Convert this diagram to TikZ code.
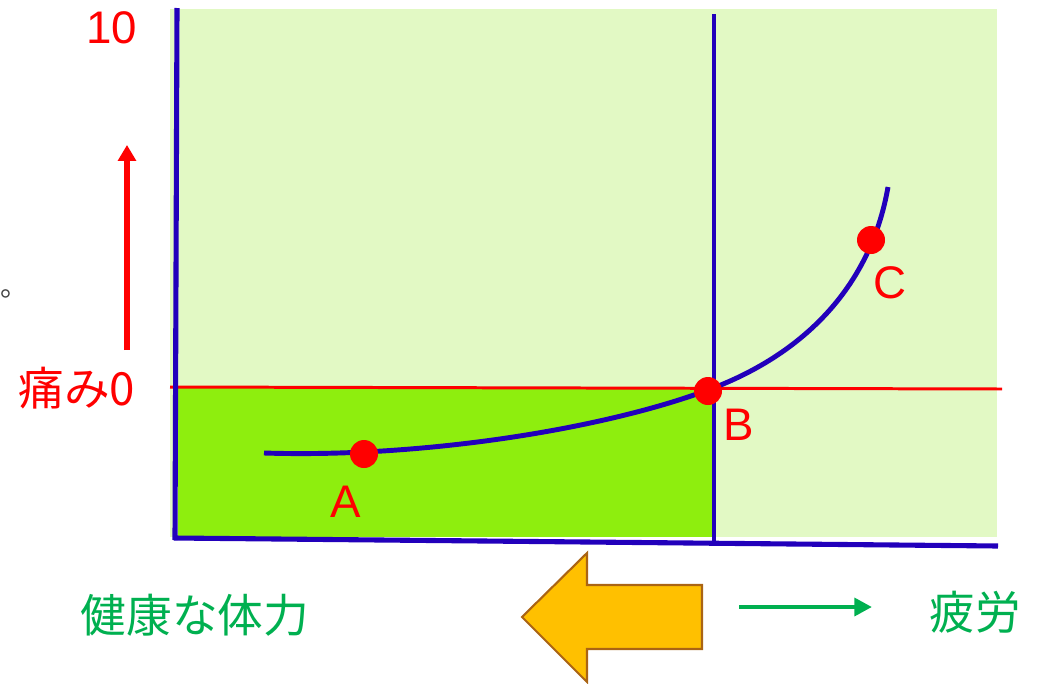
\documentclass[tikz,border=0pt]{standalone}
\usepackage{fontspec}
\usetikzlibrary{arrows.meta}
\setmainfont{Liberation Sans}
\newfontfamily\jpfont{Noto Sans CJK JP}
\definecolor{axisblue}{RGB}{34,0,187}
\definecolor{bglight}{RGB}{226,249,196}
\definecolor{bgbright}{RGB}{142,238,14}
\definecolor{arrorange}{RGB}{255,192,0}
\definecolor{arrbrown}{RGB}{170,100,20}
\definecolor{txtgreen}{RGB}{0,176,80}
\tikzset{
  dot/.style={circle,fill=red,inner sep=0pt,minimum size=0.56cm},
  lbl/.style={text=red,font=\fontsize{26}{28}\selectfont,inner sep=0pt},
  jplbl/.style={font=\jpfont\fontsize{26}{28}\selectfont,inner sep=0pt},
  axisline/.style={axisblue,line width=2.9pt},
}
\begin{document}
\begin{tikzpicture}[x=0.02cm,y=-0.02cm]
\useasboundingbox (0,0) rectangle (1038,683);
% backgrounds
\fill[bglight] (170,9) rectangle (997,537);
\fill[bgbright] (178,387) rectangle (714,537);
% vertical divider
\draw[axisblue,line width=2pt] (714,14) -- (714,543);
% red zero line
\draw[red,line width=1.7pt] (170,387) -- (1002,389);
% axes
\draw[axisline] (177,8) -- (175,540);
\draw[axisline] (174,538) -- (998,546);
% curve
\draw[axisblue,line width=2.8pt] (264,453) .. controls (420,458) and (600,430) .. (708,390)
   .. controls (800,356) and (870,290) .. (888,187);
% dots
\node[dot] (A) at (364,454) {};
\node[dot] (B) at (708,391) {};
\node[dot] (C) at (871,240) {};
% point labels
\node[lbl,anchor=base] (lA) at (346,517) {A};
\node[lbl,anchor=base] (lB) at (739,440) {B};
\node[lbl,anchor=base] (lC) at (890,298) {C};
% axis labels
\node[lbl,anchor=base] (l10) at (112,43) {10};
\node[jplbl,text=red,anchor=base west] (pain) at (18,405) {痛み0};
\node (gray) [text=darkgray,font=\jpfont\fontsize{16}{18}\selectfont,inner sep=0pt,anchor=base west] at (0,296) {。};
% red up arrow
\coordinate (ra1) at (127,350);
\coordinate (ra2) at (127,145);
\draw[red,line width=3.4pt,-{Triangle[width=10pt,length=9pt]}] (ra1) -- (ra2);
% bottom labels
\node[jplbl,text=txtgreen] (health) at (195,615) {健康な体力};
\node[jplbl,text=txtgreen] (fatigue) at (975,612) {疲労};
% green arrow
\coordinate (ga1) at (739,607);
\coordinate (ga2) at (872,607);
\draw[txtgreen,line width=2.8pt,-{Triangle[width=10pt,length=10pt]}] (ga1) -- (ga2);
% orange block arrow
\draw[arrbrown,fill=arrorange,line width=1.2pt,line join=miter]
  (522,617) -- (587,553) -- (587,585) -- (702,585) -- (702,649) -- (587,649) -- (587,682) -- cycle;
\end{tikzpicture}
\end{document}
